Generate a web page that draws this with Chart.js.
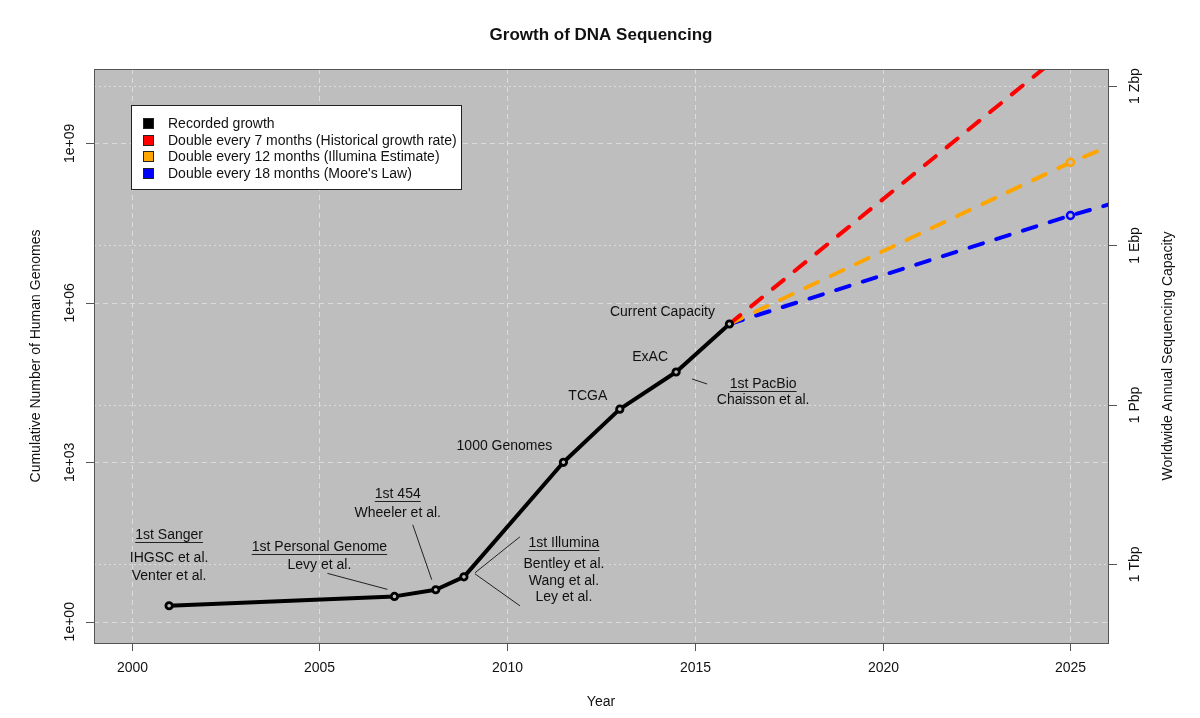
<!DOCTYPE html>
<html lang="en">
<head>
<meta charset="UTF-8">
<title>Growth of DNA Sequencing</title>
<script src="https://cdn.jsdelivr.net/npm/chart.js@4.4.0/dist/chart.umd.min.js"></script>
<style>
  html, body { margin: 0; padding: 0; background: #fff; }
</style>
</head>
<body>
<canvas id="dna_chart" width="1200" height="718"></canvas>
<script>
// recorded growth (cumulative human genomes)
const recYears = [2001.0, 2007.0, 2008.1, 2008.85, 2011.5, 2013.0, 2014.5, 2015.92];
const recGenomes = [2, 3, 4, 7, 1000, 10000, 50000, 400000];

// projections from current capacity
const projYears = [2015.92, 2025, 2026];
const proj7 = [400000, 6.6e10, 2.5e11];
const proj12 = [400000, 4.4e8, 8.6e8];
const proj18 = [400000, 4.4e7, 7.0e7];

const seriesLabels = ['Recorded growth', 'Double every 7 months (Historical growth rate)',
  'Double every 12 months (Illumina Estimate)', "Double every 18 months (Moore's Law)"];
const seriesColors = ['#000000', '#ff0000', '#ffa500', '#0000ff'];

const xTicks = [2000, 2005, 2010, 2015, 2020, 2025];
const yTicks = [1, 1e3, 1e6, 1e9];
const yTickLabels = ['1e+00', '1e+03', '1e+06', '1e+09'];
// right axis: genomes equivalent of yearly capacity
const capTicks = [12, 12e3, 12e6, 12e9];
const capTickLabels = ['1 Tbp', '1 Pbp', '1 Ebp', '1 Zbp'];

// annotations, offsets in px from the recorded point
const notes = [
  {pt: 0, text: [['1st Sanger', 0, -71, true], ['IHGSC et al.', 0, -48], ['Venter et al.', 0, -30]]},
  {pt: 1, text: [['1st Personal Genome', -75, -49, true], ['Levy et al.', -75, -31]], lines: [[-67, -23, -7, -7]]},
  {pt: 2, text: [['1st 454', -38, -96, true], ['Wheeler et al.', -38, -77]], lines: [[-23, -65, -4, -10]]},
  {pt: 3, text: [['1st Illumina', 100, -34, true], ['Bentley et al.', 100, -13], ['Wang et al.', 100, 4], ['Ley et al.', 100, 20]],
    lines: [[11, -4, 56, -40], [11, -3, 56, 29]]},
  {pt: 4, text: [['1000 Genomes', -59, -16]]},
  {pt: 5, text: [['TCGA', -32, -13]]},
  {pt: 6, text: [['ExAC', -26, -15], ['1st PacBio', 87, 12, true], ['Chaisson et al.', 87, 28]], lines: [[16, 7, 31, 12]]},
  {pt: 7, text: [['Current Capacity', -67, -12]]}
];

const FONT = '"Liberation Sans", Arial, sans-serif';

const decor = {
  id: 'decor',
  beforeDatasetsDraw(chart) {
    const ctx = chart.ctx, a = chart.chartArea, x = chart.scales.x, y = chart.scales.y;
    ctx.save();
    ctx.fillStyle = '#bebebe';
    ctx.fillRect(a.left, a.top, a.width, a.height);
    ctx.strokeStyle = '#dcdcdc';
    ctx.lineWidth = 1;
    ctx.setLineDash([5, 4]);
    ctx.beginPath();
    xTicks.forEach(v => {
      const px = Math.round(x.getPixelForValue(v)) + 0.5;
      ctx.moveTo(px, a.top); ctx.lineTo(px, a.bottom);
    });
    yTicks.forEach(v => {
      const py = Math.round(y.getPixelForValue(v)) + 0.5;
      ctx.moveTo(a.left, py); ctx.lineTo(a.right, py);
    });
    ctx.stroke();
    // capacity grid is dotted
    ctx.setLineDash([2, 3]);
    ctx.beginPath();
    capTicks.forEach(v => {
      const py = Math.round(y.getPixelForValue(v)) + 0.5;
      ctx.moveTo(a.left, py); ctx.lineTo(a.right, py);
    });
    ctx.stroke();
    ctx.restore();
  },
  afterDatasetsDraw(chart) {
    const ctx = chart.ctx, a = chart.chartArea, x = chart.scales.x, y = chart.scales.y;
    ctx.save();
    // plot box
    ctx.strokeStyle = '#555';
    ctx.lineWidth = 1;
    ctx.strokeRect(a.left + 0.5, a.top + 0.5, a.width, a.height);

    ctx.fillStyle = '#111';
    ctx.font = '14px ' + FONT;
    ctx.textAlign = 'center';
    ctx.textBaseline = 'middle';

    // x axis
    ctx.beginPath();
    xTicks.forEach(v => {
      const px = Math.round(x.getPixelForValue(v)) + 0.5;
      ctx.moveTo(px, a.bottom); ctx.lineTo(px, a.bottom + 8);
      ctx.fillText(String(v), px, a.bottom + 25);
    });
    // left axis ticks
    yTicks.forEach((v, i) => {
      const py = Math.round(y.getPixelForValue(v)) + 0.5;
      ctx.moveTo(a.left - 8, py); ctx.lineTo(a.left, py);
    });
    // right axis ticks
    capTicks.forEach(v => {
      const py = Math.round(y.getPixelForValue(v)) + 0.5;
      ctx.moveTo(a.right, py); ctx.lineTo(a.right + 9, py);
    });
    ctx.stroke();

    yTicks.forEach((v, i) => {
      ctx.save();
      ctx.translate(70, y.getPixelForValue(v));
      ctx.rotate(-Math.PI / 2);
      ctx.fillText(yTickLabels[i], 0, 0);
      ctx.restore();
    });
    capTicks.forEach((v, i) => {
      ctx.save();
      ctx.translate(1135, y.getPixelForValue(v));
      ctx.rotate(-Math.PI / 2);
      ctx.fillText(capTickLabels[i], 0, 0);
      ctx.restore();
    });

    // axis titles
    const midY = (a.top + a.bottom) / 2, midX = (a.left + a.right) / 2;
    ctx.fillText('Year', midX, 702);
    ctx.save();
    ctx.translate(36, midY); ctx.rotate(-Math.PI / 2);
    ctx.fillText('Cumulative Number of Human Genomes', 0, 0);
    ctx.restore();
    ctx.save();
    ctx.translate(1168, midY); ctx.rotate(-Math.PI / 2);
    ctx.fillText('Worldwide Annual Sequencing Capacity', 0, 0);
    ctx.restore();

    ctx.font = 'bold 17px ' + FONT;
    ctx.fillText('Growth of DNA Sequencing', midX, 35);

    // annotations
    ctx.font = '14px ' + FONT;
    notes.forEach(n => {
      const px = x.getPixelForValue(recYears[n.pt]);
      const py = y.getPixelForValue(recGenomes[n.pt]);
      n.text.forEach(t => {
        const tx = px + t[1], ty = py + t[2];
        ctx.fillText(t[0], tx, ty);
        if (t[3]) {
          const w = ctx.measureText(t[0]).width;
          ctx.beginPath();
          ctx.lineWidth = 1;
          ctx.strokeStyle = '#222';
          ctx.moveTo(tx - w / 2, Math.round(ty + 7) + 0.5);
          ctx.lineTo(tx + w / 2, Math.round(ty + 7) + 0.5);
          ctx.stroke();
        }
      });
      (n.lines || []).forEach(l => {
        ctx.beginPath();
        ctx.lineWidth = 1;
        ctx.strokeStyle = '#222';
        ctx.moveTo(px + l[0], py + l[1]);
        ctx.lineTo(px + l[2], py + l[3]);
        ctx.stroke();
      });
    });

    // legend box
    const lx = 131.5, ly = 105.5, lw = 330, lh = 84;
    ctx.fillStyle = '#fff';
    ctx.fillRect(lx, ly, lw, lh);
    ctx.strokeStyle = '#222';
    ctx.strokeRect(lx, ly, lw, lh);
    ctx.textAlign = 'left';
    chart.data.datasets.forEach((ds, i) => {
      const ry = 123 + i * 16.7;
      ctx.fillStyle = seriesColors[i];
      ctx.fillRect(143.5, Math.round(ry - 5) + 0.5, 10, 10);
      ctx.strokeStyle = '#222';
      ctx.strokeRect(143.5, Math.round(ry - 5) + 0.5, 10, 10);
      ctx.fillStyle = '#111';
      ctx.fillText(ds.label, 168, ry + 1);
    });
    ctx.restore();
  }
};

function toPts(xs, ys) {
  return xs.map((v, i) => ({x: v, y: ys[i]}));
}

function projSet(i, vals, showEnd) {
  return {
    label: seriesLabels[i],
    data: toPts(projYears, vals),
    borderColor: seriesColors[i],
    backgroundColor: '#bebebe',
    borderWidth: 4,
    borderDash: [14, 14],
    borderCapStyle: 'round',
    pointRadius: showEnd ? [0, 3.5, 0] : 0,
    pointBorderWidth: 2.5,
    pointBorderColor: seriesColors[i],
    pointBackgroundColor: '#bebebe',
    tension: 0
  };
}

const ctx = document.getElementById('dna_chart').getContext('2d');
const dna_chart = new Chart(ctx, {
  type: 'line',
  data: {
    datasets: [{
      label: seriesLabels[0],
      data: toPts(recYears, recGenomes),
      borderColor: '#000',
      borderWidth: 4,
      borderCapStyle: 'round',
      borderJoinStyle: 'round',
      pointRadius: 3.2,
      pointBorderWidth: 2.8,
      pointBorderColor: '#000',
      pointBackgroundColor: '#bebebe',
      tension: 0
    },
    projSet(1, proj7, false),
    projSet(2, proj12, true),
    projSet(3, proj18, true)]
  },
  options: {
    responsive: false,
    animation: false,
    layout: {padding: {left: 94, right: 92, top: 69, bottom: 75}},
    scales: {
      x: {type: 'linear', min: 1999, max: 2026, display: false},
      y: {type: 'logarithmic', min: Math.pow(10, -0.40), max: Math.pow(10, 10.40), display: false}
    },
    plugins: {
      legend: {display: false},
      tooltip: {enabled: false},
      title: {display: false}
    }
  },
  plugins: [decor]
});
</script>
</body>
</html>
